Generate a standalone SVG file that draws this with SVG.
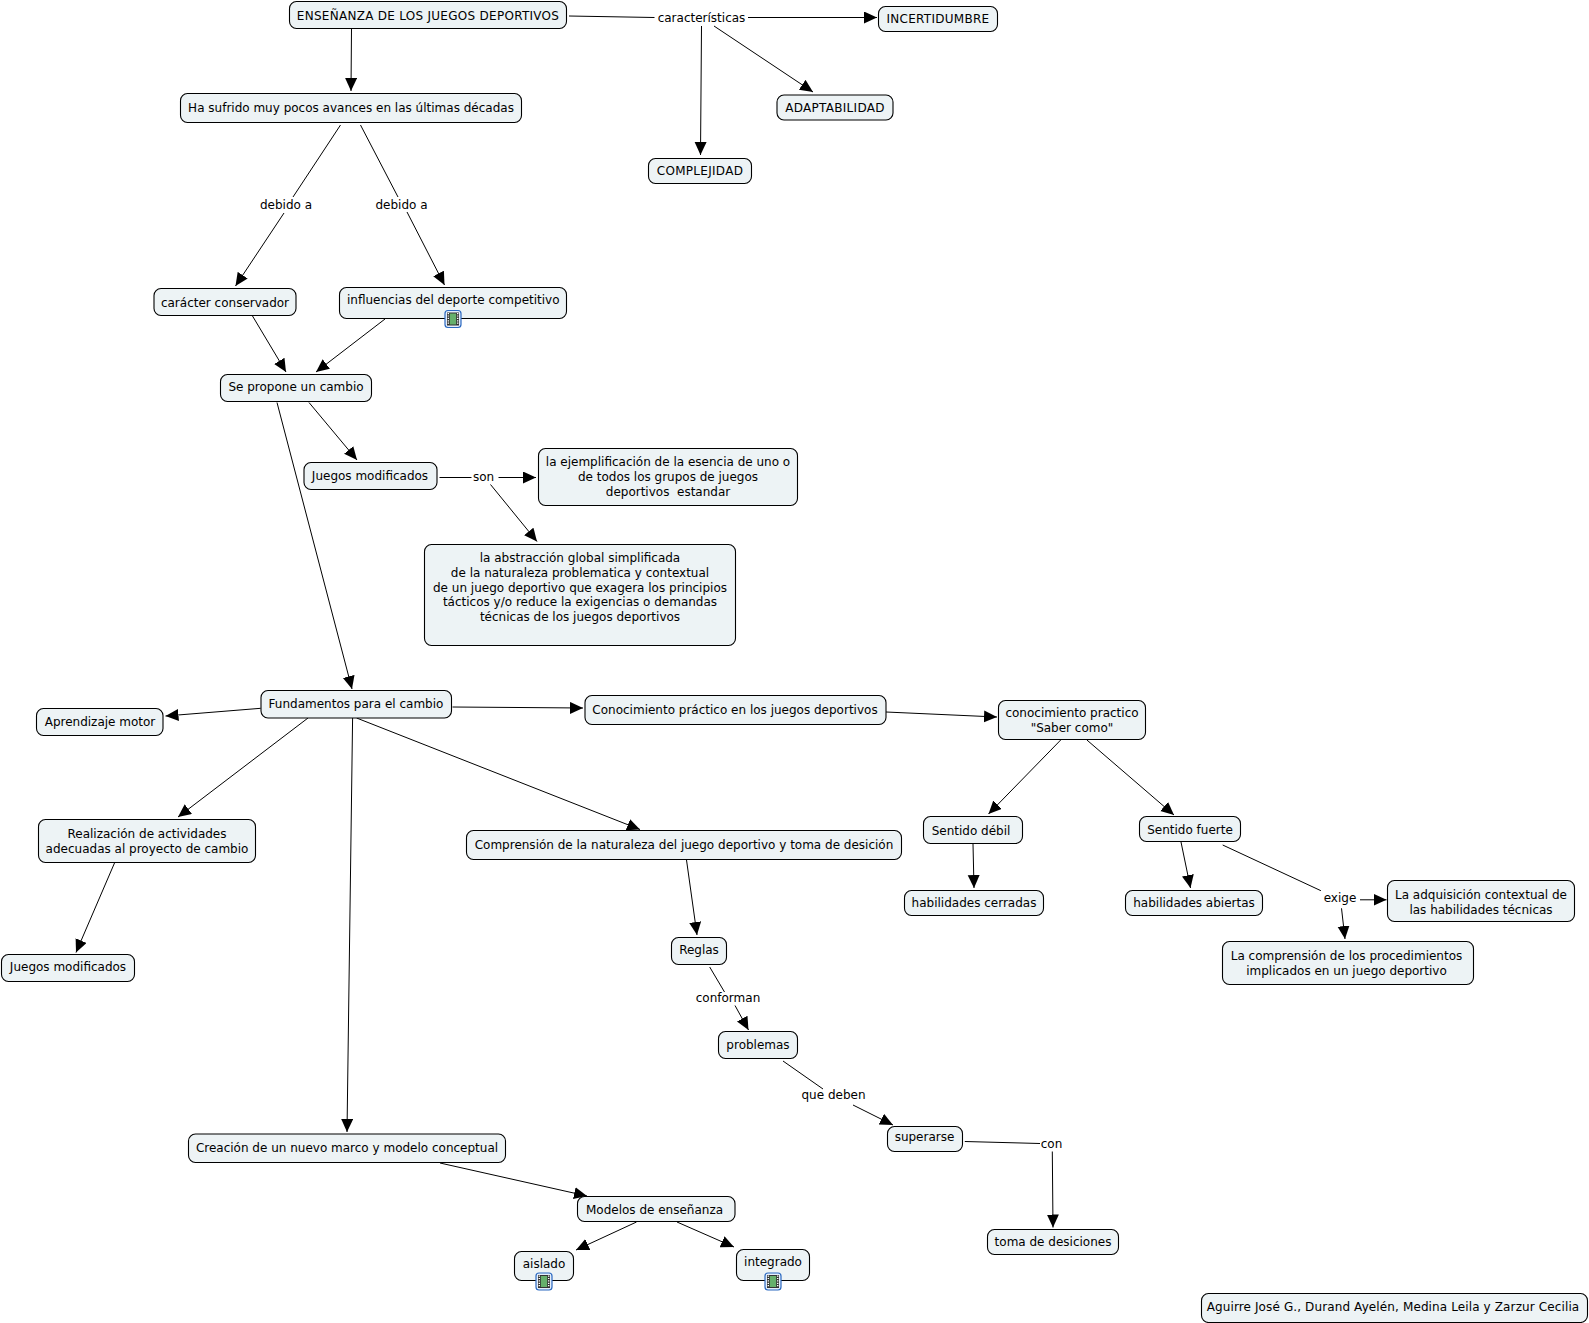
<svg xmlns="http://www.w3.org/2000/svg" width="1589" height="1323" viewBox="0 0 1589 1323">
<style>
rect.n{fill:#edf3f5;stroke:#000;stroke-width:1.1}
text{font-family:"DejaVu Sans","Liberation Sans",sans-serif;font-size:12px;fill:#000;text-anchor:middle;white-space:pre}
text.c{letter-spacing:.28px}
#connectors line{stroke:#000;stroke-width:1;fill:none}
#connectors line.a{marker-end:url(#arr)}
</style>
<defs>
<marker id="arr" markerUnits="userSpaceOnUse" markerWidth="15" markerHeight="13" refX="13" refY="6" orient="auto"><path d="M0 0L13 6L0 12Z" fill="#000"/></marker>
<g id="film"><rect x="-8" y="-8.5" width="16" height="17" rx="3" fill="#e4eefb" stroke="#2a68c0" stroke-width="1.2"/><rect x="-6" y="-6.5" width="12" height="13" fill="#333"/><rect x="-3.2" y="-5.5" width="6.4" height="11" fill="#66b06c"/><path d="M-4.7-6V6M4.7-6V6" stroke="#fff" stroke-width="1.4" stroke-dasharray="1.2 1.2"/></g>
</defs>
<rect width="1589" height="1323" fill="#fff"/>
<g id="connectors">
<line class="a" x1="351.5" y1="28" x2="351" y2="91"/>
<line x1="569" y1="16" x2="654.5" y2="17.5"/>
<line class="a" x1="748" y1="17.5" x2="877" y2="17.5"/>
<line class="a" x1="701.5" y1="26" x2="700.5" y2="155"/>
<line class="a" x1="714" y1="26" x2="813" y2="92"/>
<line x1="340.5" y1="125" x2="293" y2="197"/>
<line class="a" x1="284" y1="213" x2="235.5" y2="286"/>
<line x1="360.5" y1="125" x2="398" y2="197"/>
<line class="a" x1="407" y1="212" x2="444.5" y2="285"/>
<line class="a" x1="252.5" y1="316" x2="286" y2="372"/>
<line class="a" x1="385" y1="319" x2="316" y2="372"/>
<line class="a" x1="309" y1="402.5" x2="357" y2="460"/>
<line class="a" x1="277" y1="402.5" x2="352" y2="689"/>
<line x1="439.5" y1="477.5" x2="471.5" y2="477.5"/>
<line class="a" x1="498.5" y1="477.5" x2="536" y2="477.5"/>
<line class="a" x1="490.5" y1="484.5" x2="537" y2="541.5"/>
<line class="a" x1="260.7" y1="708.3" x2="165.5" y2="716"/>
<line class="a" x1="452.5" y1="707" x2="583" y2="708"/>
<line class="a" x1="886" y1="712" x2="997" y2="717"/>
<line class="a" x1="1060.7" y1="740" x2="988.5" y2="814"/>
<line class="a" x1="1086.9" y1="740" x2="1174" y2="815"/>
<line class="a" x1="973" y1="844" x2="974" y2="888"/>
<line class="a" x1="1181" y1="842" x2="1190.5" y2="888"/>
<line x1="1222.7" y1="845" x2="1320.9" y2="890.7"/>
<line class="a" x1="1360" y1="899.8" x2="1386.5" y2="899.8"/>
<line class="a" x1="1341.5" y1="908.3" x2="1345" y2="939"/>
<line class="a" x1="308" y1="718" x2="178" y2="817"/>
<line class="a" x1="356.6" y1="718" x2="640" y2="829.5"/>
<line class="a" x1="352.6" y1="718" x2="347" y2="1132"/>
<line class="a" x1="114.5" y1="863" x2="76" y2="952.5"/>
<line class="a" x1="686.5" y1="860" x2="697" y2="935"/>
<line x1="709.7" y1="967" x2="724.5" y2="992"/>
<line class="a" x1="735" y1="1005.5" x2="748.5" y2="1030"/>
<line x1="783" y1="1061" x2="823" y2="1089"/>
<line class="a" x1="853" y1="1105" x2="893" y2="1125"/>
<line x1="964.8" y1="1141.5" x2="1040" y2="1143.5"/>
<line class="a" x1="1052.3" y1="1151.5" x2="1053" y2="1227.5"/>
<line class="a" x1="440" y1="1163" x2="587" y2="1196"/>
<line class="a" x1="636.5" y1="1222" x2="576" y2="1250"/>
<line class="a" x1="677" y1="1222" x2="734" y2="1247"/>
</g>
<g id="link-labels">
<text x="701.5" y="21.5">características</text>
<text x="286" y="209">debido a</text>
<text x="401.5" y="208.5">debido a</text>
<text x="483.5" y="481">son</text>
<text x="1340" y="902">exige</text>
<text x="728" y="1002">conforman</text>
<text x="833.5" y="1099">que deben</text>
<text x="1051.5" y="1148">con</text>
</g>
<g id="n1"><rect class="n" x="289.5" y="1.5" width="277" height="27" rx="7"/><text class="c" x="428" y="20">ENSEÑANZA DE LOS JUEGOS DEPORTIVOS</text></g>
<g id="n2"><rect class="n" x="180.5" y="93.5" width="341" height="29" rx="7"/><text x="351" y="112">Ha sufrido muy pocos avances en las últimas décadas</text></g>
<g id="n3"><rect class="n" x="154" y="288.5" width="142" height="27" rx="7"/><text x="225" y="307">carácter conservador</text></g>
<g id="n4"><rect class="n" x="339.5" y="287.5" width="227" height="31" rx="7"/><text x="453.3" y="304">influencias del deporte competitivo</text><use href="#film" x="453" y="319"/></g>
<g id="n5"><rect class="n" x="220.5" y="374.5" width="151" height="27" rx="7"/><text x="296" y="391">Se propone un cambio</text></g>
<g id="n6"><rect class="n" x="648.5" y="158.5" width="103" height="25" rx="7"/><text class="c" x="700" y="175">COMPLEJIDAD</text></g>
<g id="n7"><rect class="n" x="878.5" y="6.5" width="119" height="25" rx="7"/><text class="c" x="938" y="23">INCERTIDUMBRE</text></g>
<g id="n8"><rect class="n" x="777" y="95" width="116" height="25" rx="7"/><text class="c" x="835" y="112">ADAPTABILIDAD</text></g>
<g id="n9"><rect class="n" x="304" y="462.5" width="133" height="27" rx="7"/><text x="370" y="480">Juegos modificados</text></g>
<g id="n10"><rect class="n" x="538.5" y="448.5" width="259" height="57" rx="7"/><text x="668" y="466">la ejemplificación de la esencia de uno o</text><text x="668" y="481">de todos los grupos de juegos</text><text x="668" y="496">deportivos  estandar</text></g>
<g id="n11"><rect class="n" x="424.5" y="544.5" width="311" height="101" rx="7"/><text x="580" y="562">la abstracción global simplificada</text><text x="580" y="577">de la naturaleza problematica y contextual</text><text x="580" y="591.5">de un juego deportivo que exagera los principios</text><text x="580" y="606">tácticos y/o reduce la exigencias o demandas</text><text x="580" y="620.5">técnicas de los juegos deportivos</text></g>
<g id="n12"><rect class="n" x="261" y="690.5" width="190.5" height="27.5" rx="7"/><text x="356" y="708">Fundamentos para el cambio</text></g>
<g id="n13"><rect class="n" x="36.5" y="708.5" width="126.5" height="27" rx="7"/><text x="100" y="725.5">Aprendizaje motor</text></g>
<g id="n14"><rect class="n" x="585" y="695.5" width="301" height="29" rx="7"/><text x="735" y="714">Conocimiento práctico en los juegos deportivos</text></g>
<g id="n15"><rect class="n" x="998.5" y="700.5" width="147" height="39" rx="7"/><text x="1072" y="717">conocimiento practico</text><text x="1072" y="731.5">"Saber como"</text></g>
<g id="n16"><rect class="n" x="923.5" y="816.5" width="99" height="27" rx="7"/><text x="971" y="835">Sentido débil</text></g>
<g id="n17"><rect class="n" x="1139.5" y="816.5" width="101" height="25" rx="7"/><text x="1190" y="833.5">Sentido fuerte</text></g>
<g id="n18"><rect class="n" x="904.5" y="890.5" width="139" height="25" rx="7"/><text x="974" y="907">habilidades cerradas</text></g>
<g id="n19"><rect class="n" x="1125.5" y="890.5" width="137" height="25" rx="7"/><text x="1194" y="907">habilidades abiertas</text></g>
<g id="n20"><rect class="n" x="1387.5" y="880.5" width="187" height="41" rx="7"/><text x="1481" y="899">La adquisición contextual de</text><text x="1481" y="914">las habilidades técnicas</text></g>
<g id="n21"><rect class="n" x="1222.5" y="941.5" width="251" height="43" rx="7"/><text x="1346.5" y="960">La comprensión de los procedimientos</text><text x="1346.5" y="974.5">implicados en un juego deportivo</text></g>
<g id="n22"><rect class="n" x="38.5" y="819.5" width="217" height="43" rx="7"/><text x="147" y="838">Realización de actividades</text><text x="147" y="852.5">adecuadas al proyecto de cambio</text></g>
<g id="n23"><rect class="n" x="466.5" y="830.5" width="435" height="29" rx="7"/><text x="684" y="849">Comprensión de la naturaleza del juego deportivo y toma de desición</text></g>
<g id="n24"><rect class="n" x="1.5" y="954.5" width="133" height="27" rx="7"/><text x="68" y="971">Juegos modificados</text></g>
<g id="n25"><rect class="n" x="671.5" y="937.5" width="55" height="27" rx="7"/><text x="699" y="954">Reglas</text></g>
<g id="n26"><rect class="n" x="718.5" y="1031.5" width="79" height="27" rx="7"/><text x="758" y="1049">problemas</text></g>
<g id="n27"><rect class="n" x="887.5" y="1126.5" width="75" height="25" rx="7"/><text x="924.5" y="1141">superarse</text></g>
<g id="n28"><rect class="n" x="987.5" y="1229.5" width="131" height="25" rx="7"/><text x="1053" y="1246">toma de desiciones</text></g>
<g id="n29"><rect class="n" x="188.5" y="1134" width="317" height="28.5" rx="7"/><text x="347" y="1152">Creación de un nuevo marco y modelo conceptual</text></g>
<g id="n30"><rect class="n" x="577.5" y="1196.5" width="157.5" height="25" rx="7"/><text x="654.5" y="1214">Modelos de enseñanza</text></g>
<g id="n31"><rect class="n" x="514.5" y="1251.5" width="59" height="29" rx="7"/><text x="544" y="1268">aislado</text><use href="#film" x="544" y="1281.5"/></g>
<g id="n32"><rect class="n" x="736.5" y="1249.5" width="73" height="31" rx="7"/><text x="773" y="1265.5">integrado</text><use href="#film" x="773" y="1281.5"/></g>
<g id="n33"><rect class="n" x="1201.5" y="1293.5" width="386" height="29" rx="7"/><text x="1393" y="1311" style="letter-spacing:.12px">Aguirre José G., Durand Ayelén, Medina Leila y Zarzur Cecilia</text></g>
</svg>
